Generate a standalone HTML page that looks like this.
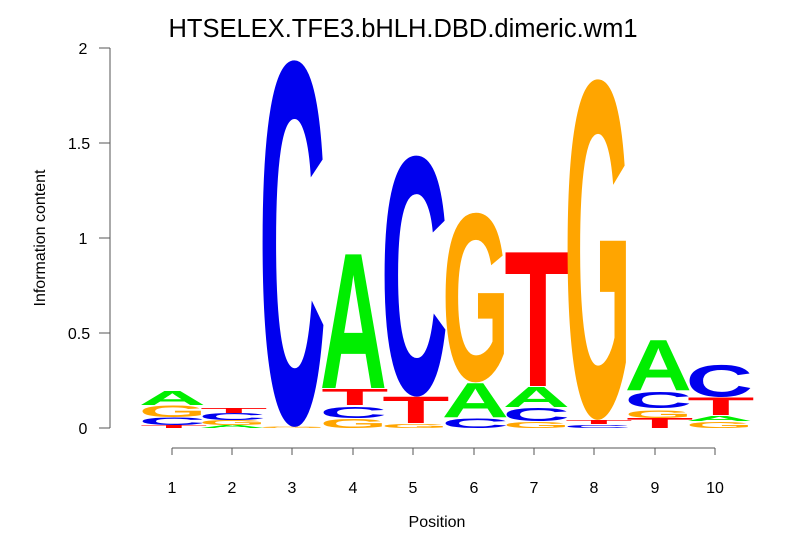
<!DOCTYPE html>
<html><head><meta charset="utf-8"><style>body{margin:0;background:#fff}svg{display:block}</style></head>
<body>
<svg width="806" height="559" xmlns="http://www.w3.org/2000/svg" font-family="Liberation Sans, sans-serif">
<text x="403" y="37" font-size="25.5" text-anchor="middle">HTSELEX.TFE3.bHLH.DBD.dimeric.wm1</text>
<g stroke="#555" stroke-width="1" fill="none">
<path d="M110 48V428M99 48H110M99 143H110M99 238H110M99 333H110M99 428H110"/>
<path d="M172 448H715M172 448v7M232 448v7M292 448v7M353 448v7M413 448v7M474 448v7M534 448v7M594 448v7M655 448v7M715 448v7"/>
</g>
<g font-size="16" text-anchor="middle">
<text x="83" y="54">2</text><text x="79" y="149">1.5</text><text x="83" y="244">1</text><text x="79" y="339">0.5</text><text x="83" y="434">0</text>
</g>
<g font-size="16" text-anchor="middle">
<text x="172" y="493">1</text><text x="232" y="493">2</text><text x="292" y="493">3</text><text x="353" y="493">4</text><text x="413" y="493">5</text><text x="474" y="493">6</text><text x="534" y="493">7</text><text x="594" y="493">8</text><text x="655" y="493">9</text><text x="715" y="493">10</text>
<text x="437" y="527">Position</text>
<text transform="translate(45,238) rotate(-90)">Information content</text>
</g>
<g id="logo" font-weight="bold"></g>
<script>
var cols={A:'#00ee00',C:'#0000ee',G:'#ffa500',T:'#ff0000'};
var data=[
[142,[['T',428,425],['C',425,417],['G',417,405],['A',405,391]]],
[202,[['A',428,425],['G',425,420],['C',420,413],['T',413,408]]],
[262,[['G',428,427],['C',426,61]]],
[323,[['G',428,419],['C',418,407],['T',405,389],['A',388,254]]],
[384,[['G',428,424],['T',423,397],['C',396,156]]],
[445,[['C',428,418],['A',417,383],['G',382,213]]],
[506,[['G',428,422],['C',421,408],['A',407,387],['T',386,252]]],
[567,[['C',428,425],['T',424,420],['G',419,80]]],
[628,[['T',428,418],['G',418,410],['C',408,392],['A',390,340]]],
[689,[['G',428,422],['A',421,416],['T',415,398],['C',397,365]]]
];
var g=document.getElementById('logo'),ns='http://www.w3.org/2000/svg';
data.forEach(function(c){c[1].forEach(function(l){
 var ch=l[0],h=l[1]-l[2];var t=document.createElementNS(ns,'text');
 var round=(ch=='C'||ch=='G');
 var capH=round?70.5:69, under=round?0.8:0;
 var tl=ch=='T'?61:ch=='G'?78:72;
 t.setAttribute('font-size',100);t.setAttribute('x',0);t.setAttribute('y',0);
 t.setAttribute('fill',cols[ch]);t.setAttribute('textLength',tl);
 t.setAttribute('lengthAdjust','spacingAndGlyphs');
 t.textContent=ch;
 var sx=60/tl*1.12, sy=h/capH;
 var xo=ch=='T'?-2:-4;
 t.setAttribute('transform','translate('+(c[0]+xo*sx+0.5)+','+(l[1]-under*sy)+') scale('+sx+','+sy+')');
 g.appendChild(t);
});});
</script>
</svg>
</body></html>
